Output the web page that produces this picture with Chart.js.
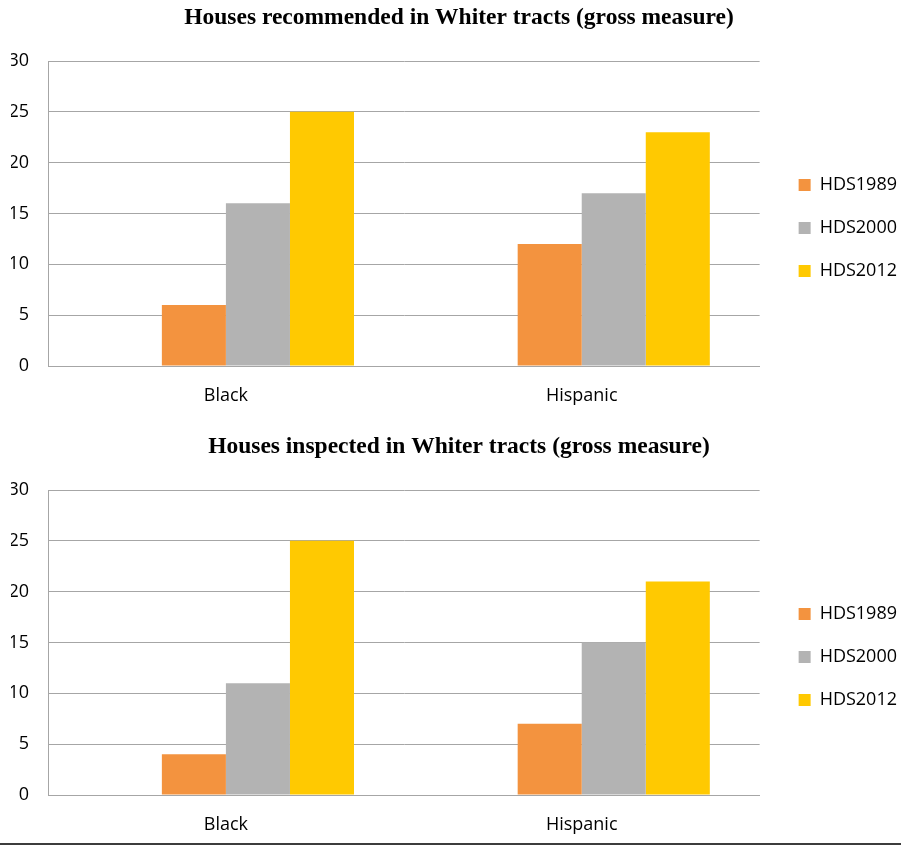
<!DOCTYPE html>
<html>
<head>
<meta charset="utf-8">
<script src="https://cdn.jsdelivr.net/npm/chart.js@4.4.1/dist/chart.umd.min.js"></script>
<style>
  html, body { margin: 0; padding: 0; background: #fff; overflow: hidden; width: 901px; height: 846px; }
  .panel { position: absolute; left: 0; width: 918px; height: 456px; }
  #panelRecommended { top: 0; }
  #panelInspected { top: 429px; }
  .rule { position: absolute; left: 0; top: 843px; width: 901px; height: 0; border-top: 2px solid #3c3c3c; }
</style>
</head>
<body>
<div class="panel" id="panelRecommended"><canvas id="chartRecommended"></canvas></div>
<div class="panel" id="panelInspected"><canvas id="chartInspected"></canvas></div>
<div class="rule"></div>
<script>
// Categories and series
const groups = ['Black', 'Hispanic'];
const seriesNames = ['HDS1989', 'HDS2000', 'HDS2012'];
const seriesColors = ['#f3933f', '#b3b3b3', '#ffc901'];

// Houses recommended in Whiter tracts (gross measure)
const recommended1989 = [6, 12];
const recommended2000 = [16, 17];
const recommended2012 = [25, 23];

// Houses inspected in Whiter tracts (gross measure)
const inspected1989 = [4, 7];
const inspected2000 = [11, 15];
const inspected2012 = [25, 21];

// Empty leading series keeps the bar groups in their slot positions
const blankSeries = [null, null];

const yMin = 0, yMax = 30, yStep = 5;

Chart.defaults.font.family = 'Open Sans';
Chart.defaults.color = '#000';

function makeChart(canvasId, title, values) {
  const datasets = [{ label: '', data: blankSeries, backgroundColor: 'rgba(0,0,0,0)' }];
  values.forEach((v, i) => datasets.push({
    label: seriesNames[i],
    data: v,
    backgroundColor: seriesColors[i],
    borderWidth: 0
  }));
  return new Chart(document.getElementById(canvasId), {
    type: 'bar',
    data: { labels: groups, datasets },
    options: {
      responsive: true,
      maintainAspectRatio: false,
      animation: false,
      devicePixelRatio: 1,
      layout: { padding: { left: 11, right: 11, top: 0, bottom: 0 } },
      datasets: { bar: { categoryPercentage: 0.72, barPercentage: 1.0 } },
      plugins: {
        title: {
          display: true,
          text: title,
          color: '#000',
          font: { family: 'Liberation Serif', size: 23.5, weight: 'bold' },
          padding: { top: 4, bottom: 28.8 }
        },
        legend: {
          position: 'right',
          labels: {
            filter: item => item.text !== '',
            boxWidth: 12,
            boxHeight: 12,
            padding: 25,
            color: '#000',
            font: { family: 'Open Sans', size: 18 }
          }
        },
        tooltip: { enabled: false }
      },
      scales: {
        x: {
          grid: { display: false },
          border: { display: true, color: '#a6a6a6', width: 1 },
          ticks: { padding: 11, font: { size: 18 }, color: '#000' },
          afterFit: s => { s.height = 90; }
        },
        y: {
          min: yMin,
          max: yMax,
          ticks: { stepSize: yStep, padding: 19, font: { size: 18 }, color: '#000' },
          grid: { color: '#a6a6a6', lineWidth: 1, drawTicks: false },
          border: { display: true, color: '#a6a6a6', width: 1 },
          afterFit: s => { s.width = 37; }
        },
        legendGap: {
          type: 'linear',
          position: 'right',
          display: true,
          grid: { display: false },
          ticks: { display: false },
          border: { display: false },
          afterFit: s => { s.width = 14; }
        }
      }
    }
  });
}

makeChart('chartRecommended', 'Houses recommended in Whiter tracts (gross measure)',
  [recommended1989, recommended2000, recommended2012]);
makeChart('chartInspected', 'Houses inspected in Whiter tracts (gross measure)',
  [inspected1989, inspected2000, inspected2012]);
</script>
</body>
</html>
